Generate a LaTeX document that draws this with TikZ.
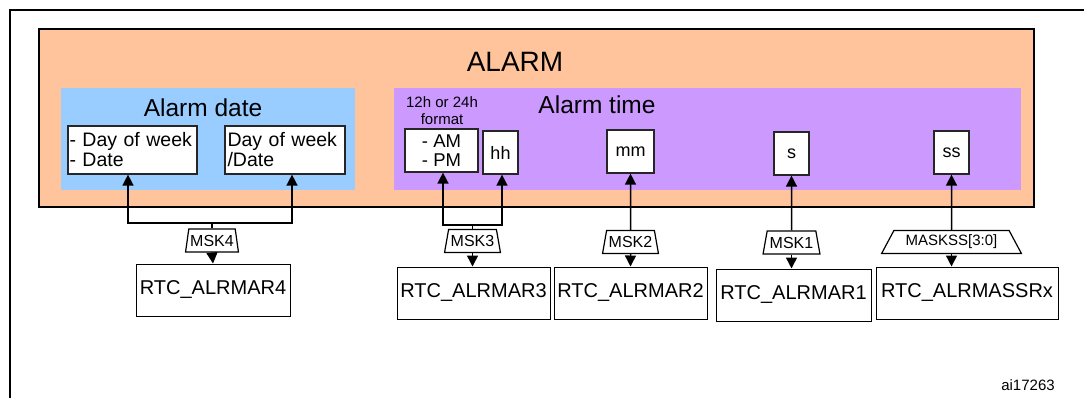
\documentclass[tikz,border=0pt]{standalone}
\usepackage{fontspec}
\setmainfont{Liberation Sans}
\usetikzlibrary{arrows.meta,shapes.geometric}
\definecolor{alarmorange}{RGB}{255,196,155}
\definecolor{alarmblue}{RGB}{153,204,255}
\definecolor{alarmpurple}{RGB}{204,153,255}
\begin{document}
\begin{tikzpicture}[x=1pt,y=-1pt,
  panel/.style={inner sep=0pt, anchor=center},
  wbox/.style={draw=black!85, line width=1.2pt, fill=white, inner sep=0pt},
  reg/.style={draw, line width=1pt, fill=white, minimum height=52pt, inner sep=0pt, font=\fontsize{20}{20}\selectfont},
  mask/.style={trapezium, draw, line width=1.2pt, fill=white, trapezium stretches=true, inner sep=0pt, minimum height=23pt, font=\fontsize{16}{16}\selectfont},
  arr/.style={line width=1.5pt, -{Triangle[length=11pt,width=11pt]}},
  ln/.style={line width=1.5pt}]
\useasboundingbox (0,0) rectangle (1084,398);
\coordinate (fbl) at (10,398);
\coordinate (ftl) at (10,10);
\coordinate (ftr) at (1084,10);
\draw[line width=2pt] (fbl) -- (ftl) -- (ftr);

% panels
\node[panel, draw, line width=1.8pt, fill=alarmorange, minimum width=995pt, minimum height=178pt] (alarm) at (536.5,118) {};
\node[panel, fill=alarmblue, minimum width=294pt, minimum height=102pt] (datepanel) at (208,139) {};
\node[panel, fill=alarmpurple, minimum width=627pt, minimum height=102pt] (timepanel) at (707.5,139) {};

% titles
\node[font=\fontsize{28}{28}\selectfont] (alarmlbl) at (515,62) {ALARM};
\node[font=\fontsize{24.5}{24}\selectfont] (datelbl) at (203,108) {Alarm date};
\node[font=\fontsize{24.5}{24}\selectfont] (timelbl) at (597,105) {Alarm time};
\node[font=\fontsize{15}{17}\selectfont, align=center, inner sep=0pt] (fmt) at (442,110.5) {12h or 24h\\format};

% field boxes
\node[wbox, minimum width=129pt, minimum height=48pt, text width=126pt, align=left, font=\fontsize{19.5}{20}\selectfont] (dow1) at (132.5,150) {- Day of week\\- Date};
\node[wbox, minimum width=120pt, minimum height=48pt, text width=115pt, align=left, font=\fontsize{19.5}{20}\selectfont] (dow2) at (285,150) {Day of week\\/Date};
\node[wbox, minimum width=73pt, minimum height=43pt, align=left, font=\fontsize{18.5}{19}\selectfont] (ampm) at (441.5,150.5) {- AM\\- PM};
\node[wbox, minimum width=35pt, minimum height=43pt, font=\fontsize{18}{18}\selectfont] (hh) at (500.5,152.5) {hh};
\node[wbox, minimum width=47pt, minimum height=43pt, font=\fontsize{18}{18}\selectfont] (mm) at (630.5,151.5) {mm};
\node[wbox, minimum width=35pt, minimum height=43pt, font=\fontsize{18}{18}\selectfont] (s) at (791.5,153.5) {s};
\node[wbox, minimum width=35pt, minimum height=43pt, font=\fontsize{18}{18}\selectfont] (ss) at (951.5,152.5) {ss};

% masks
\node[mask, minimum width=53pt, trapezium angle=75] (msk4) at (212,240.5) {MSK4};
\node[mask, minimum width=56pt, trapezium angle=72] (msk3) at (472.5,241) {MSK3};
\node[mask, minimum width=56pt, trapezium angle=72] (msk2) at (630.5,242) {MSK2};
\node[mask, minimum width=57pt, trapezium angle=72] (msk1) at (791.5,242.5) {MSK1};
\node[mask, minimum width=140pt, trapezium angle=55, font=\fontsize{15}{15}\selectfont] (mskss) at (951.5,242) {MASKSS[3:0]};

% registers
\node[reg, minimum width=154pt] (rtc4) at (213,290) {RTC\_ALRMAR4};
\node[reg, minimum width=153pt] (rtc3) at (473.5,293) {RTC\_ALRMAR3};
\node[reg, minimum width=153pt] (rtc2) at (630.5,293) {RTC\_ALRMAR2};
\node[reg, minimum width=155pt] (rtc1) at (793.5,295) {RTC\_ALRMAR1};
\node[reg, minimum width=182pt] (rtcss) at (967,293) {RTC\_ALRMASSRx};

% connectors
\coordinate (a4l) at (128,223);
\coordinate (a4r) at (292,223);
\draw[arr] (msk4.north) |- (a4l) -- (a4l |- dow1.south);
\draw[arr] (msk4.north) |- (a4r) -- (a4r |- dow2.south);
\coordinate (a3l) at (443,225);
\coordinate (a3r) at (502,225);
\draw[arr] (msk3.north) |- (a3l) -- (a3l |- ampm.south);
\draw[arr] (msk3.north) |- (a3r) -- (a3r |- hh.south);
\draw[arr] (msk2.north) -- (mm.south);
\draw[arr] (msk1.north) -- (s.south);
\draw[arr] (mskss.north) -- (ss.south);

\draw[arr] (msk4.south) -- (rtc4.north);
\draw[arr] (msk3.south) -- (msk3.south |- rtc3.north);
\draw[arr] (msk2.south) -- (rtc2.north);
\draw[arr] (msk1.south) -- (msk1.south |- rtc1.north);
\draw[arr] (mskss.south) -- (mskss.south |- rtcss.north);

\node[font=\fontsize{15}{15}\selectfont] (code) at (1028,385) {ai17263};
\end{tikzpicture}
\end{document}
